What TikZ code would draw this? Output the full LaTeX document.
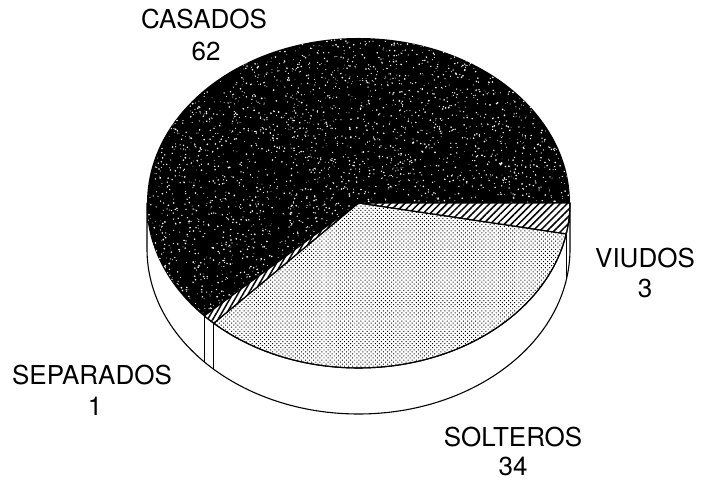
\documentclass[tikz,border=0pt]{standalone}
\usepackage{fontspec}
\setmainfont{TeX Gyre Heros}
\usetikzlibrary{patterns.meta}
\begin{document}
\begin{tikzpicture}[x=1pt,y=1pt,
  lab/.style={inner sep=0pt,font=\fontsize{26}{30}\selectfont},
  edge/.style={line width=1.1pt,line join=round}]
\useasboundingbox (0,0) rectangle (704,481);
\def\cx{358.5}\def\cy{278}\def\rx{211.5}\def\ry{165}\def\dp{46}
\coordinate (C) at (\cx,\cy);
\foreach \n/\a in {p0/0,p1/223.2,p2/226.8,p3/349.2,pl/180}{
  \coordinate (\n) at ({\cx+\rx*cos(\a)},{\cy+\ry*sin(\a)});
  \coordinate (\n b) at ({\cx+\rx*cos(\a)},{\cy-\dp+\ry*sin(\a)});
}
% side wall
\draw[edge,fill=white] (pl) arc[start angle=180,end angle=360,x radius=\rx,y radius=\ry]
  -- (p0b) arc[start angle=360,end angle=180,x radius=\rx,y radius=\ry] -- cycle;
\draw[edge] (p1) -- (p1b);
\draw[edge] (p2) -- (p2b);
\draw[edge] (p3) -- (p3b);
% CASADOS
\fill[black] (C) -- (p0) arc[start angle=0,end angle=223.2,x radius=\rx,y radius=\ry] -- cycle;
\begin{scope}
\clip (C) -- (p0) arc[start angle=0,end angle=223.2,x radius=\rx,y radius=\ry] -- cycle;
\pgfmathsetseed{12345}
\foreach \i in {1,...,4200}{
  \pgfmathsetmacro\xx{147+423*rnd}
  \pgfmathsetmacro\yy{155+290*rnd}
  \pgfmathsetmacro\rr{0.35+0.6*rnd}
  \fill[white] (\xx,\yy) circle[radius=\rr];
}
\end{scope}
% SEPARADOS
\draw[edge,pattern={Lines[angle=60,distance=4.5pt,line width=1.5pt]}]
  (C) -- (p1) arc[start angle=223.2,end angle=226.8,x radius=\rx,y radius=\ry] -- cycle;
% SOLTEROS
\draw[edge,pattern={Dots[angle=45,distance=2.9pt,radius=0.7pt]}]
  (C) -- (p2) arc[start angle=226.8,end angle=349.2,x radius=\rx,y radius=\ry] -- cycle;
% VIUDOS
\draw[edge,pattern={Lines[angle=45,distance=5pt,line width=1.5pt]}]
  (C) -- (p3) arc[start angle=349.2,end angle=360,x radius=\rx,y radius=\ry] -- cycle;
% labels
\node[lab] (casL) at (204,462) {CASADOS};
\node[lab] (casN) at (206,430) {62};
\node[lab] (sepL) at (92,106) {SEPARADOS};
\node[lab] (sepN) at (95,75) {1};
\node[lab] (solL) at (513,44) {SOLTEROS};
\node[lab] (solN) at (513,15) {34};
\node[lab] (viuL) at (645,223) {VIUDOS};
\node[lab] (viuN) at (645,193) {3};
\end{tikzpicture}
\end{document}
